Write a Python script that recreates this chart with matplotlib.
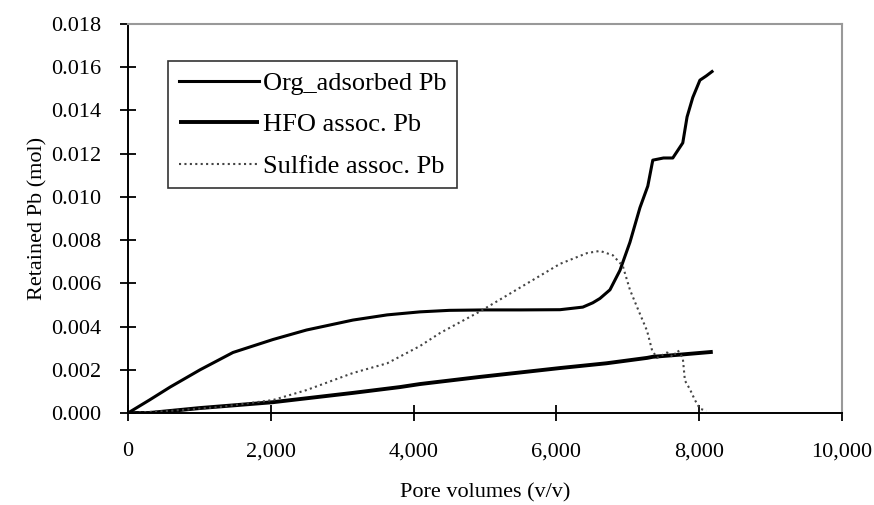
import matplotlib
matplotlib.use("Agg")
import matplotlib.pyplot as plt
from matplotlib.ticker import FuncFormatter, MultipleLocator

# Data
org_x = [0, 300, 590, 1010, 1470, 1750, 2030, 2500, 3150, 3630, 4090, 4500, 5000, 5500, 6050,
         6370, 6510, 6610, 6750, 6890, 7030, 7170, 7280, 7350, 7500, 7630, 7770, 7830,
         7910, 8010, 8100, 8180]
org_y = [0.0, 0.0006, 0.0012, 0.0020, 0.0028, 0.0031, 0.0034, 0.00384, 0.0043, 0.00454, 0.00468,
         0.00475, 0.00477, 0.00477, 0.00478, 0.0049, 0.0051, 0.0053, 0.0057, 0.0066, 0.0079,
         0.0095, 0.0105, 0.0117, 0.0118, 0.0118, 0.0125, 0.0137, 0.0146, 0.0154, 0.0156, 0.0158]

hfo_x = [0, 300, 1010, 2030, 3150, 3810, 4090, 4930, 6050, 6700, 7270, 7350, 7730, 8190]
hfo_y = [0.0, 0.0, 0.00023, 0.0005, 0.00093, 0.0012, 0.00134, 0.00167, 0.00208, 0.0023,
         0.00255, 0.0026, 0.0027, 0.00283]

sul_x = [0, 600, 1290, 2030, 2500, 3150, 3630, 4090, 4370, 4930, 5490, 6050, 6430, 6610,
         6790, 6930, 7030, 7130, 7270, 7340, 7410, 7550, 7630, 7700, 7770, 7800, 7870,
         7940, 8010, 8100]
sul_y = [0.0, 0.0001, 0.00028, 0.0006, 0.00106, 0.00185, 0.0023, 0.0031, 0.0037, 0.0047,
         0.0058, 0.0069, 0.0074, 0.0075, 0.0073, 0.0068, 0.0057, 0.0049, 0.0038, 0.0029,
         0.00255, 0.0028, 0.0026, 0.0029, 0.00255, 0.0015, 0.0011, 0.0006, 0.0002, 0.0001]

series_labels = ["Org_adsorbed Pb", "HFO assoc. Pb", "Sulfide assoc. Pb"]
x_label = "Pore volumes (v/v)"
y_label = "Retained Pb (mol)"

plt.rcParams['font.family'] = ['Liberation Serif', 'DejaVu Serif']

fig = plt.figure(figsize=(8.74, 5.05), dpi=100)
ax = fig.add_axes([128/874, 1-413/505, (842-128)/874, (413-24)/505])

ax.plot(org_x, org_y, color='black', lw=2.2, label=series_labels[0])
ax.plot(hfo_x, hfo_y, color='black', lw=2.8, solid_capstyle='butt', label=series_labels[1])
ax.plot(sul_x, sul_y, color='#444444', lw=1.5, linestyle=(0, (1, 1.6)), label=series_labels[2])

ax.set_xlim(0, 10000)
ax.set_ylim(0, 0.018)
ax.xaxis.set_major_locator(MultipleLocator(2000))
ax.yaxis.set_major_locator(MultipleLocator(0.002))
ax.xaxis.set_major_formatter(FuncFormatter(lambda v, p: f"{v:,.0f}"))
ax.yaxis.set_major_formatter(FuncFormatter(lambda v, p: f"{v:.3f}"))

ax.tick_params(direction='inout', length=12, width=1.3, labelsize=16, colors='black')
ax.tick_params(axis='y', pad=13)
ax.tick_params(axis='x', pad=15)
ax.xaxis.set_ticks_position('bottom')
ax.yaxis.set_ticks_position('left')

for s in ['left', 'bottom']:
    ax.spines[s].set_color('black')
    ax.spines[s].set_linewidth(1.4)
for s in ['top', 'right']:
    ax.spines[s].set_color('#999999')
    ax.spines[s].set_linewidth(1.5)

ax.set_xlabel(x_label, fontsize=16, labelpad=16)
ax.set_ylabel(y_label, fontsize=16, labelpad=3)

leg = ax.legend(loc='upper left', bbox_to_anchor=((168-128)/714, (413-61)/389),
                fontsize=19, frameon=True, fancybox=False, handlelength=3.05,
                handletextpad=0.15, labelspacing=0.68, borderpad=0.4, borderaxespad=0)
leg.get_frame().set_edgecolor('black')
leg.get_frame().set_linewidth(1.2)

fig.savefig("out.png", dpi=100, facecolor='white')
